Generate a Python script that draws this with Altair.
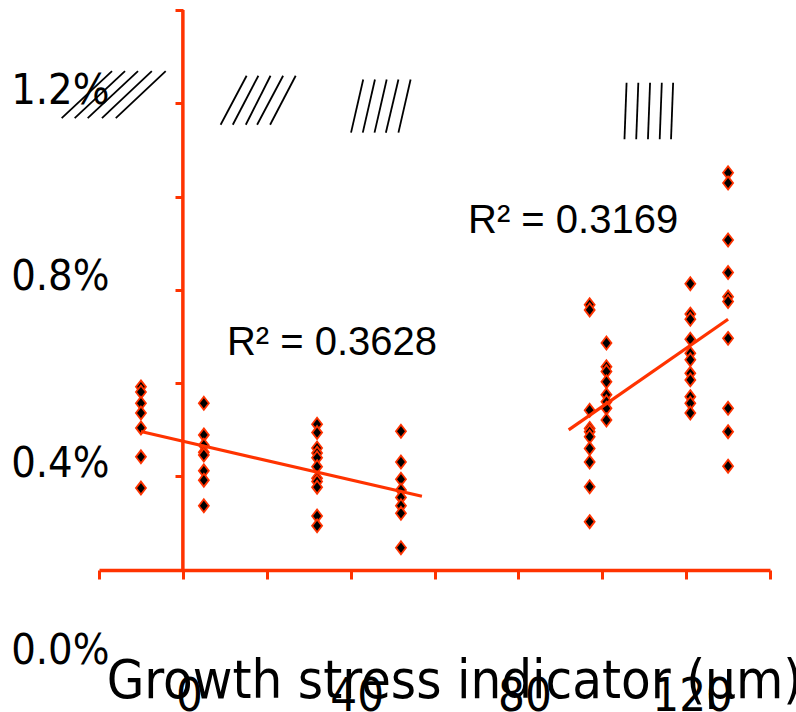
import altair as alt
import pandas as pd

RED = "#FF3300"
NARROW = "Liberation Sans Narrow, DejaVu Sans Condensed, sans-serif"
REGULAR = "Liberation Sans, Arial, sans-serif"

# ---- data ----
x_positions = [-10, 5, 32, 52, 97, 101, 121, 130]
group_of_column = ["low", "low", "low", "low", "high", "high", "high", "high"]
column_values = [
    [0.592, 0.581, 0.557, 0.536, 0.504, 0.442, 0.375],
    [0.557, 0.489, 0.467, 0.452, 0.446, 0.412, 0.392, 0.337],
    [0.512, 0.494, 0.461, 0.450, 0.440, 0.421, 0.396, 0.389, 0.377, 0.315, 0.294],
    [0.497, 0.431, 0.394, 0.371, 0.355, 0.337, 0.321, 0.247],
    [0.768, 0.757, 0.542, 0.503, 0.496, 0.485, 0.460, 0.431, 0.378, 0.303],
    [0.686, 0.635, 0.625, 0.603, 0.575, 0.560, 0.546, 0.521],
    [0.813, 0.748, 0.737, 0.694, 0.664, 0.650, 0.621, 0.607, 0.571, 0.557, 0.536],
    [1.051, 1.029, 0.907, 0.837, 0.785, 0.775, 0.696, 0.546, 0.496, 0.422],
]

trend_groups = ["low", "high"]
trend_extents = [[-10, 57], [92, 130]]

r2_labels = ["R\u00b2 = 0.3628", "R\u00b2 = 0.3169"]
r2_x = [10.5, 68.0]
r2_y = [0.660, 0.922]

x_ticks = [-20, 0, 20, 40, 60, 80, 100, 120, 140]
y_ticks = [0.0, 0.2, 0.4, 0.6, 0.8, 1.0, 1.2, 1.4]

yaxis_x = [0]
yaxis_y = [0.2]
yaxis_y2 = [1.4]

# hatch annotations: bottom / top x of each stroke, bottom / top y of each group
hatch_bottom_x = [
    [-28.9, -25.8, -22.7, -19.3, -16.0],
    [9.0, 11.9, 15.0, 17.7, 20.8],
    [40.1, 42.9, 45.7, 48.4, 51.4],
    [105.3, 108.1, 110.9, 113.7, 116.4],
]
hatch_top_x = [
    [-16.9, -13.8, -10.7, -7.4, -4.1],
    [15.2, 18.0, 20.9, 23.9, 26.9],
    [43.0, 45.8, 48.6, 51.4, 54.3],
    [105.8, 108.6, 111.4, 114.2, 116.9],
]
hatch_y_bottom = [1.168, 1.154, 1.137, 1.123]
hatch_y_top = [1.269, 1.259, 1.251, 1.244]

# ---- tables ----
rows = []
for xv, g, vals in zip(x_positions, group_of_column, column_values):
    for v in vals:
        rows.append({"x": xv, "y": v, "group": g})
points_df = pd.DataFrame(rows)

hatch_rows = []
for bx, tx, yb, yt in zip(hatch_bottom_x, hatch_top_x, hatch_y_bottom, hatch_y_top):
    for b, t in zip(bx, tx):
        hatch_rows.append({"x": b, "x2": t, "y": yb, "y2": yt})
hatch_df = pd.DataFrame(hatch_rows)

r2_df = pd.DataFrame({"label": r2_labels, "x": r2_x, "y": r2_y})
yaxis_df = pd.DataFrame({"x": yaxis_x, "y": yaxis_y, "y2": yaxis_y2})

# ---- scales & axes ----
xscale = alt.Scale(domain=[-20, 140], nice=False, zero=False)
yscale = alt.Scale(domain=[0, 1.4], nice=False, zero=False)

xaxis = alt.Axis(
    values=x_ticks, format="d",
    labelExpr="datum.value >= 0 && datum.value <= 120 && datum.value % 40 == 0 ? datum.label : ''",
    offset=-93, domainColor=RED, domainWidth=3.5, tickColor=RED, tickWidth=3, tickSize=9,
    labelFont=NARROW, labelFontSize=47, labelColor="black", labelBaseline="top",
    labelPadding=94, labelOffset=6, labelFlush=False, labelOverlap=False, labelBound=False,
    grid=False, title="Growth stress indicator (\u00b5m)", titleFont=NARROW, titleFontSize=54,
    titleFontWeight="normal", titleColor="black", titleX=355, titleY=127,
    titleBaseline="alphabetic", titleAlign="center", titleAngle=0,
)
yaxis = alt.Axis(
    values=y_ticks,
    labelExpr="round(datum.value * 10) % 4 == 0 ? format(datum.value, '.1f') + '%' : ''",
    offset=-84, domain=False, tickColor=RED, tickWidth=3, tickSize=8,
    tickOpacity={"condition": {"test": "datum.value < 0.1", "value": 0}, "value": 1},
    labelFont=NARROW, labelFontSize=43, labelColor="black", labelAlign="right",
    labelBaseline="alphabetic", labelPadding=66, labelFlush=False, labelOverlap=False,
    labelBound=False, grid=False, title=None,
)

DIAMOND = "M0,-1.3L1,0L0,1.3L-1,0Z"

points = alt.Chart(points_df).mark_point(
    shape=DIAMOND, filled=True, fill="black", stroke=RED, strokeWidth=1.8,
    size=100, opacity=1, fillOpacity=1, strokeOpacity=1,
).encode(
    x=alt.X("x:Q", scale=xscale, axis=xaxis),
    y=alt.Y("y:Q", scale=yscale, axis=yaxis),
)

trends = []
for g, ext in zip(trend_groups, trend_extents):
    trends.append(
        alt.Chart(points_df)
        .transform_filter(alt.datum.group == g)
        .transform_regression("x", "y", extent=ext)
        .mark_line(color=RED, strokeWidth=3.2)
        .encode(x=alt.X("x:Q", scale=xscale), y=alt.Y("y:Q", scale=yscale))
    )

yaxis_line = alt.Chart(yaxis_df).mark_rule(color=RED, strokeWidth=3.5).encode(
    x=alt.X("x:Q", scale=xscale), y=alt.Y("y:Q", scale=yscale), y2="y2:Q"
)

hatch = alt.Chart(hatch_df).mark_rule(color="black", strokeWidth=1.8).encode(
    x=alt.X("x:Q", scale=xscale), x2="x2:Q",
    y=alt.Y("y:Q", scale=yscale), y2="y2:Q",
)

r2 = alt.Chart(r2_df).mark_text(
    align="left", baseline="alphabetic", font=REGULAR, fontSize=40, color="black"
).encode(
    x=alt.X("x:Q", scale=xscale), y=alt.Y("y:Q", scale=yscale), text="label:N"
)

chart = alt.layer(yaxis_line, points, *trends, hatch, r2).properties(
    width=671, height=653,
    autosize=alt.AutoSizeParams(type="none"),
    padding={"left": 99, "top": 10, "right": 26, "bottom": 49},
    background="white",
).configure_view(stroke=None)

chart.save("out.html", embed_options={"renderer": "svg", "actions": False})
